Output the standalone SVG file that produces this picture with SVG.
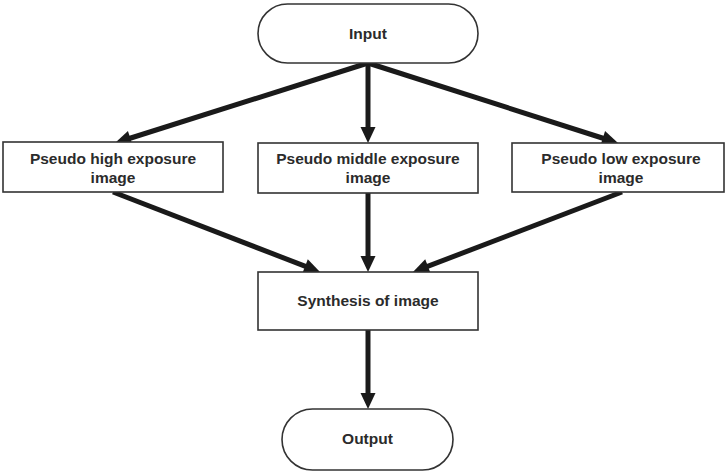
<svg xmlns="http://www.w3.org/2000/svg" width="726" height="473" viewBox="0 0 726 473">
<style>
.box{fill:#fff;stroke:#333;stroke-width:1.6}
.t{font-family:"Liberation Sans",Arial,sans-serif;font-weight:bold;font-size:15.5px;fill:#2b2b2b;text-anchor:middle}
.c{stroke:#1a1a1a;stroke-width:5;fill:none;marker-end:url(#ah)}
</style>
<defs>
<marker id="ah" markerUnits="userSpaceOnUse" markerWidth="16" markerHeight="15" refX="6" refY="7.5" orient="auto" overflow="visible">
<path d="M0,0 L16,7.5 L0,15 z" fill="#1a1a1a"/>
</marker>
</defs>
<rect width="726" height="473" fill="#fff"/>
<g id="connectors">
<line class="c" x1="368" y1="63" x2="124.5" y2="140"/>
<line class="c" x1="368" y1="63" x2="368" y2="133"/>
<line class="c" x1="368" y1="63" x2="608.5" y2="140"/>
<line class="c" x1="113" y1="192" x2="310.7" y2="268.4"/>
<line class="c" x1="368" y1="193" x2="368" y2="262"/>
<line class="c" x1="622" y1="192" x2="422.3" y2="268.4"/>
<line class="c" x1="368" y1="330" x2="368" y2="399"/>
</g>
<g id="input">
<rect class="box" x="258" y="4" width="220" height="59" rx="29.5"/>
<text class="t" x="368" y="38.5">Input</text>
</g>
<g id="high">
<rect class="box" x="3" y="142" width="220" height="50"/>
<text class="t" x="113" y="163.5">Pseudo high exposure</text>
<text class="t" x="113" y="182.5">image</text>
</g>
<g id="middle">
<rect class="box" x="258" y="143" width="220" height="50"/>
<text class="t" x="368" y="163.5">Pseudo middle exposure</text>
<text class="t" x="368" y="182.5">image</text>
</g>
<g id="low">
<rect class="box" x="512" y="143" width="212" height="49"/>
<text class="t" x="621" y="163.5">Pseudo low exposure</text>
<text class="t" x="621" y="182.5">image</text>
</g>
<g id="synthesis">
<rect class="box" x="258" y="272" width="220" height="58"/>
<text class="t" x="368" y="305.5">Synthesis of image</text>
</g>
<g id="output">
<rect class="box" x="282" y="409" width="171" height="61" rx="30.5"/>
<text class="t" x="367.5" y="444">Output</text>
</g>
</svg>
